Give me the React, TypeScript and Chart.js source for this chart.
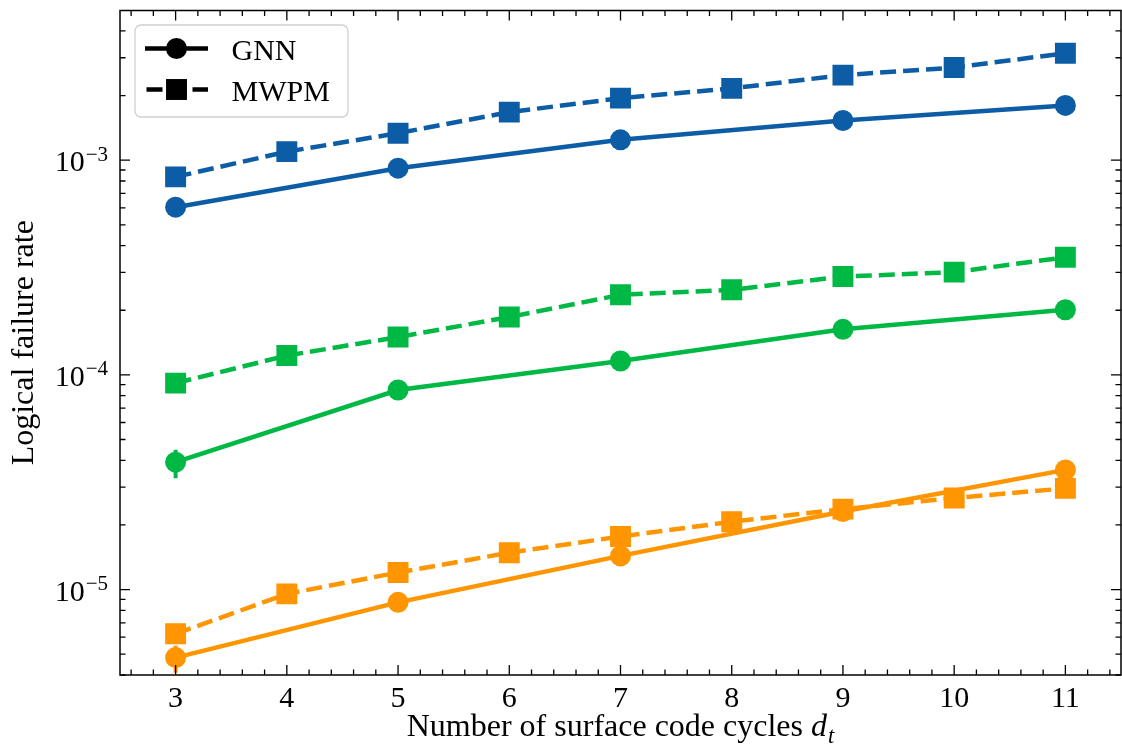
import React, { useEffect, useRef } from 'react';
import { Chart, registerables } from 'chart.js';

Chart.register(...registerables);

// ---------- data ----------
const cyclesGNN = [3, 5, 7, 9, 11];
const cyclesMWPM = [3, 4, 5, 6, 7, 8, 9, 10, 11];

const blueGNN = [6.04e-4, 9.18e-4, 1.244e-3, 1.53e-3, 1.8e-3];
const blueMWPM = [8.36e-4, 1.096e-3, 1.336e-3, 1.675e-3, 1.945e-3, 2.16e-3, 2.49e-3, 2.7e-3, 3.15e-3];

const greenGNN = [3.92e-5, 8.5e-5, 1.16e-4, 1.63e-4, 2.01e-4];
const greenMWPM = [9.15e-5, 1.23e-4, 1.5e-4, 1.86e-4, 2.36e-4, 2.49e-4, 2.87e-4, 3.01e-4, 3.53e-4];

const orangeGNN = [4.82e-6, 8.72e-6, 1.435e-5, 2.31e-5, 3.61e-5];
const orangeMWPM = [6.22e-6, 9.55e-6, 1.2e-5, 1.485e-5, 1.766e-5, 2.07e-5, 2.37e-5, 2.67e-5, 2.96e-5];

// error bars (lower / upper), null where hidden by the marker
const greenGNNErrLow = [3.3e-5, null, null, null, null];
const greenGNNErrHigh = [4.48e-5, null, null, null, null];
const orangeGNNErrLow = [4.1e-6, null, null, null, null];
const orangeGNNErrHigh = [5.48e-6, null, null, null, null];

const xTickValues = [3, 4, 5, 6, 7, 8, 9, 10, 11];
const xTickLabels = ['3', '4', '5', '6', '7', '8', '9', '10', '11'];
const yMajorExponents = [-5, -4, -3];
const legendLabels = ['GNN', 'MWPM'];
const xTitle = 'Number of surface code cycles ';
const yTitle = 'Logical failure rate';

const X_MIN = 2.5;
const X_MAX = 11.5;
const Y_MIN = 4.0e-6;
const Y_MAX = 4.98e-3;

// ---------- style ----------
const BLUE = '#0C5DA5';
const GREEN = '#00B945';
const ORANGE = '#FF9500';
const FONT = '"Liberation Serif", "DejaVu Serif", serif';
const LABEL_SIZE = 30;
const TITLE_SIZE = 32;
const LINE_W = 4.5;
const DASH = [16, 7];
const CIRCLE_R = 10.5;
const RECT_R = 14.8;

type Series = {
  xs: number[];
  ys: number[];
  color: string;
  dashed: boolean;
  lo?: (number | null)[];
  hi?: (number | null)[];
};

const seriesList: Series[] = [
  { xs: cyclesGNN, ys: blueGNN, color: BLUE, dashed: false },
  { xs: cyclesMWPM, ys: blueMWPM, color: BLUE, dashed: true },
  { xs: cyclesGNN, ys: greenGNN, color: GREEN, dashed: false, lo: greenGNNErrLow, hi: greenGNNErrHigh },
  { xs: cyclesMWPM, ys: greenMWPM, color: GREEN, dashed: true },
  { xs: cyclesGNN, ys: orangeGNN, color: ORANGE, dashed: false, lo: orangeGNNErrLow, hi: orangeGNNErrHigh },
  { xs: cyclesMWPM, ys: orangeMWPM, color: ORANGE, dashed: true },
];

const decorPlugin = {
  id: 'decor',
  beforeDatasetsDraw(chart: any) {
    const { ctx, scales } = chart;
    const x = scales.x;
    const y = scales.y;
    ctx.save();
    ctx.lineWidth = 4;
    ctx.lineCap = 'butt';
    seriesList.forEach((s) => {
      if (!s.lo || !s.hi) return;
      s.xs.forEach((xv, i) => {
        const lo = s.lo![i];
        const hi = s.hi![i];
        if (lo == null || hi == null) return;
        const px = x.getPixelForValue(xv);
        ctx.strokeStyle = s.color;
        ctx.beginPath();
        ctx.moveTo(px, y.getPixelForValue(lo));
        ctx.lineTo(px, y.getPixelForValue(hi));
        ctx.stroke();
      });
    });
    ctx.restore();
  },
  afterDraw(chart: any) {
    const { ctx, chartArea, scales } = chart;
    const { left, right, top, bottom } = chartArea;
    const x = scales.x;
    const y = scales.y;
    ctx.save();
    ctx.strokeStyle = '#000';
    ctx.fillStyle = '#000';
    ctx.lineCap = 'butt';

    // ticks
    const MAJ = 10;
    const MIN = 5.5;
    ctx.lineWidth = 1.3;
    const vTick = (px: number, len: number) => {
      ctx.beginPath();
      ctx.moveTo(px, bottom);
      ctx.lineTo(px, bottom - len);
      ctx.moveTo(px, top);
      ctx.lineTo(px, top + len);
      ctx.stroke();
    };
    const hTick = (py: number, len: number) => {
      ctx.beginPath();
      ctx.moveTo(left, py);
      ctx.lineTo(left + len, py);
      ctx.moveTo(right, py);
      ctx.lineTo(right - len, py);
      ctx.stroke();
    };
    xTickValues.forEach((v) => vTick(x.getPixelForValue(v), MAJ));
    for (let k = Math.ceil(X_MIN * 5); k <= Math.floor(X_MAX * 5); k++) {
      if (k % 5 === 0) continue;
      vTick(x.getPixelForValue(k / 5), MIN);
    }
    for (let e = -6; e <= -3; e++) {
      for (let m = 1; m <= 9; m++) {
        const v = m * Math.pow(10, e);
        if (v < Y_MIN * 0.999 || v > Y_MAX) continue;
        const py = y.getPixelForValue(v);
        hTick(py, m === 1 ? MAJ : MIN);
      }
    }

    // frame
    ctx.lineWidth = 1.5;
    ctx.strokeRect(left, top, right - left, bottom - top);

    // x tick labels
    ctx.font = `${LABEL_SIZE}px ${FONT}`;
    ctx.textAlign = 'center';
    ctx.textBaseline = 'alphabetic';
    xTickValues.forEach((v, i) => {
      ctx.fillText(xTickLabels[i], x.getPixelForValue(v), 706.5);
    });

    // y tick labels 10^e
    yMajorExponents.forEach((e) => {
      const py = y.getPixelForValue(Math.pow(10, e));
      ctx.textAlign = 'left';
      ctx.font = `${LABEL_SIZE}px ${FONT}`;
      const w1 = ctx.measureText('10').width;
      ctx.font = `${LABEL_SIZE * 0.7}px ${FONT}`;
      const sup = '\u2212' + String(-e);
      const w2 = ctx.measureText(sup).width;
      const xEnd = 108;
      const x0 = xEnd - w2 - 1 - w1;
      ctx.font = `${LABEL_SIZE}px ${FONT}`;
      ctx.fillText('10', x0, py + 11);
      ctx.font = `${LABEL_SIZE * 0.7}px ${FONT}`;
      ctx.fillText(sup, x0 + w1 + 1, py + 0.5);
    });

    // x title
    ctx.font = `${TITLE_SIZE}px ${FONT}`;
    const wMain = ctx.measureText(xTitle).width;
    ctx.font = `italic ${TITLE_SIZE}px ${FONT}`;
    const wD = ctx.measureText('d').width;
    ctx.font = `italic ${TITLE_SIZE * 0.7}px ${FONT}`;
    const wT = ctx.measureText('t').width;
    const total = wMain + wD + wT + 1;
    const cx = (left + right) / 2;
    let tx = cx - total / 2;
    ctx.textAlign = 'left';
    ctx.font = `${TITLE_SIZE}px ${FONT}`;
    ctx.fillText(xTitle, tx, 736);
    tx += wMain;
    ctx.font = `italic ${TITLE_SIZE}px ${FONT}`;
    ctx.fillText('d', tx, 736);
    tx += wD + 1;
    ctx.font = `italic ${TITLE_SIZE * 0.7}px ${FONT}`;
    ctx.fillText('t', tx, 743);

    // y title
    ctx.save();
    ctx.translate(33, (top + bottom) / 2);
    ctx.rotate(-Math.PI / 2);
    ctx.font = `${TITLE_SIZE}px ${FONT}`;
    ctx.textAlign = 'center';
    ctx.fillText(yTitle, 0, 0);
    ctx.restore();

    // legend
    const lx = 135, ly = 25, lw = 213, lh = 92, r = 6;
    ctx.beginPath();
    ctx.moveTo(lx + r, ly);
    ctx.lineTo(lx + lw - r, ly);
    ctx.arcTo(lx + lw, ly, lx + lw, ly + r, r);
    ctx.lineTo(lx + lw, ly + lh - r);
    ctx.arcTo(lx + lw, ly + lh, lx + lw - r, ly + lh, r);
    ctx.lineTo(lx + r, ly + lh);
    ctx.arcTo(lx, ly + lh, lx, ly + lh - r, r);
    ctx.lineTo(lx, ly + r);
    ctx.arcTo(lx, ly, lx + r, ly, r);
    ctx.closePath();
    ctx.fillStyle = 'rgba(255,255,255,0.8)';
    ctx.fill();
    ctx.strokeStyle = '#d0d0d0';
    ctx.lineWidth = 1.3;
    ctx.stroke();

    const rows = [48.5, 89.5];
    ctx.strokeStyle = '#000';
    ctx.fillStyle = '#000';
    ctx.lineWidth = LINE_W;
    // GNN row
    ctx.setLineDash([]);
    ctx.beginPath();
    ctx.moveTo(145, rows[0]);
    ctx.lineTo(208, rows[0]);
    ctx.stroke();
    ctx.beginPath();
    ctx.arc(176.5, rows[0], CIRCLE_R, 0, Math.PI * 2);
    ctx.fill();
    // MWPM row
    ctx.setLineDash(DASH);
    ctx.lineDashOffset = -1.5;
    ctx.beginPath();
    ctx.moveTo(145, rows[1]);
    ctx.lineTo(208, rows[1]);
    ctx.stroke();
    ctx.setLineDash([]);
    const sq = RECT_R * Math.SQRT1_2;
    ctx.fillRect(176.5 - sq, rows[1] - sq, 2 * sq, 2 * sq);

    ctx.font = `${LABEL_SIZE}px ${FONT}`;
    ctx.textAlign = 'left';
    ctx.fillText(legendLabels[0], 231.5, 59.5);
    ctx.fillText(legendLabels[1], 231.5, 100.5);

    ctx.restore();
  },
};

export default function App() {
  const ref = useRef<HTMLCanvasElement | null>(null);
  useEffect(() => {
    if (!ref.current) return;
    const datasets = seriesList.map((s) => ({
      data: s.xs.map((xv, i) => ({ x: xv, y: s.ys[i] })),
      borderColor: s.color,
      backgroundColor: s.color,
      borderWidth: LINE_W,
      borderDash: s.dashed ? DASH : [],
      borderCapStyle: 'butt' as const,
      pointStyle: s.dashed ? 'rect' : 'circle',
      pointRadius: s.dashed ? RECT_R : CIRCLE_R,
      pointBorderWidth: 0,
      pointBackgroundColor: s.color,
      pointBorderColor: s.color,
      tension: 0,
      fill: false,
    }));
    const chart = new Chart(ref.current, {
      type: 'line',
      data: { datasets: datasets as any },
      options: {
        animation: false,
        responsive: false,
        devicePixelRatio: 1,
        events: [],
        layout: { autoPadding: false, padding: { top: 10.5, right: 1, left: 0, bottom: 0 } },
        plugins: { legend: { display: false }, tooltip: { enabled: false }, title: { display: false } },
        scales: {
          x: {
            type: 'linear',
            min: X_MIN,
            max: X_MAX,
            grid: { display: false },
            border: { display: false },
            ticks: { display: false },
            afterFit: (s: any) => {
              s.height = 74;
            },
          },
          y: {
            type: 'logarithmic',
            min: Y_MIN,
            max: Y_MAX,
            grid: { display: false },
            border: { display: false },
            ticks: { display: false },
            afterFit: (s: any) => {
              s.width = 120;
            },
          },
        },
      },
      plugins: [decorPlugin],
    });
    return () => chart.destroy();
  }, []);
  return (
    <div style={{ position: 'fixed', left: 0, top: 0, width: 1122, height: 749, background: '#fff' }}>
      <canvas ref={ref} width={1122} height={749} style={{ display: 'block', width: 1122, height: 749 }} />
    </div>
  );
}
